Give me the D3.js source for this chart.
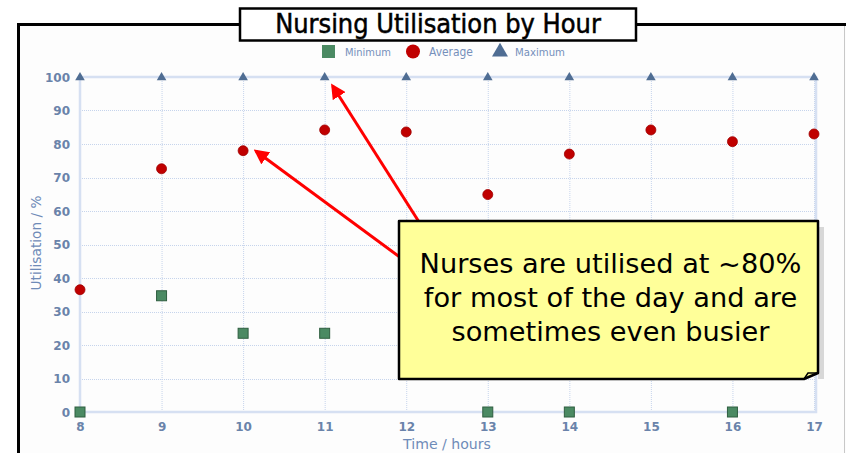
<!DOCTYPE html>
<html>
<head>
<meta charset="utf-8">
<script src="https://cdn.jsdelivr.net/npm/d3@7"></script>
<style>
  body { margin: 0; background: #fff; }
  svg { display: block; }
</style>
</head>
<body>
<div id="chart-area"></div>
<script>
let hours = [8, 9, 10, 11, 12, 13, 14, 15, 16, 17];
let minimum = [0, 34.7, 23.5, 23.5, 23.5, 0, 0, 11.8, 0, 23.5];
let average = [36.5, 72.6, 78.0, 84.2, 83.6, 64.9, 77.0, 84.2, 80.7, 83.0];
let maximum = [100, 100, 100, 100, 100, 100, 100, 100, 100, 100];
let yTicks = [0, 10, 20, 30, 40, 50, 60, 70, 80, 90, 100];
let noteLines = ["Nurses are utilised at ~80%", "for most of the day and are", "sometimes even busier"];

let width = 846;
let height = 453;
let plot = { left: 80, right: 814, top: 77, bottom: 412 };

let svg = d3.select("#chart-area")
    .append("svg")
    .attr("width", width)
    .attr("height", height);

// shrink a text to a target width
function fitWidth(sel, target) {
    let w = sel.node().getComputedTextLength();
    let fs = parseFloat(sel.style("font-size"));
    sel.style("font-size", (fs * target / w) + "px");
}

// outer frame
svg.append("rect")
    .attr("x", 18.5).attr("y", 24.5)
    .attr("width", 900).attr("height", 500)
    .attr("fill", "#fdfdfd")
    .attr("stroke", "#000")
    .attr("stroke-width", 3);
svg.append("line")
    .attr("x1", 844.5).attr("x2", 844.5)
    .attr("y1", 26).attr("y2", height)
    .attr("stroke", "#c8c8c8");

let x = d3.scaleLinear()
    .domain([8, 17])
    .range([plot.left, plot.right]);

let y = d3.scaleLinear()
    .domain([0, 100])
    .range([plot.bottom, plot.top]);

let grid = svg.append("g").attr("class", "grid");

grid.selectAll(".vgrid").data(hours)
    .enter().append("line")
    .attr("x1", d => x(d) + 0.5).attr("x2", d => x(d) + 0.5)
    .attr("y1", plot.top).attr("y2", plot.bottom)
    .attr("stroke", "#c6d4ec")
    .attr("stroke-dasharray", "1,1");

grid.selectAll(".hgrid").data(yTicks)
    .enter().append("line")
    .attr("x1", plot.left).attr("x2", plot.right)
    .attr("y1", d => Math.round(y(d)) + 0.5).attr("y2", d => Math.round(y(d)) + 0.5)
    .attr("stroke", "#c6d4ec")
    .attr("stroke-dasharray", "1,1");

// plot border
svg.append("rect")
    .attr("x", plot.left).attr("y", Math.round(y(100)))
    .attr("width", x(17) - plot.left + 2)
    .attr("height", Math.round(y(0)) - Math.round(y(100)))
    .attr("fill", "none")
    .attr("stroke", "#d6e0f2")
    .attr("stroke-width", 2.5);

// Y axis
let yAxis = d3.axisLeft(y)
    .tickValues(yTicks)
    .tickSize(0)
    .tickPadding(10);

let yG = svg.append("g")
    .attr("transform", "translate(" + plot.left + ",0)")
    .call(yAxis);
yG.select(".domain").remove();
yG.selectAll("text")
    .attr("fill", "#6a83aa")
    .attr("dy", "0.36em")
    .style("font", "bold 12px Verdana, 'DejaVu Sans', sans-serif");

// X axis
let xAxis = d3.axisBottom(x)
    .tickValues(hours)
    .tickSize(0)
    .tickPadding(10);

let xG = svg.append("g")
    .attr("transform", "translate(0," + plot.bottom + ")")
    .call(xAxis);
xG.select(".domain").remove();
xG.selectAll("text")
    .attr("fill", "#6a83aa")
    .style("font", "bold 12px Verdana, 'DejaVu Sans', sans-serif");

// axis labels
let xLabel = svg.append("text")
    .attr("x", 447).attr("y", 449)
    .attr("text-anchor", "middle")
    .attr("fill", "#6f8bb8")
    .style("font", "14px 'DejaVu Sans', sans-serif")
    .text("Time / hours");
fitWidth(xLabel, 88);

let yLabel = svg.append("text")
    .attr("transform", "rotate(-90)")
    .attr("x", -243).attr("y", 41)
    .attr("text-anchor", "middle")
    .attr("fill", "#6f8bb8")
    .style("font", "14px 'DejaVu Sans', sans-serif")
    .text("Utilisation / %");
fitWidth(yLabel, 95);

// series
let marks = svg.append("g").attr("class", "marks");

marks.selectAll(".min").data(hours)
    .enter().append("rect")
    .attr("x", (d) => x(d) - 5)
    .attr("y", (d, i) => y(minimum[i]) - 5)
    .attr("width", 10).attr("height", 10)
    .attr("fill", "#4b8a63")
    .attr("stroke", "#2f5e40")
    .attr("stroke-width", 1);

marks.selectAll(".avg").data(hours)
    .enter().append("circle")
    .attr("cx", (d) => x(d))
    .attr("cy", (d, i) => y(average[i]))
    .attr("r", 5)
    .attr("fill", "#c00000")
    .attr("stroke", "#a00000")
    .attr("stroke-width", 0.8);

let tri = d3.symbol().type(d3.symbolTriangle).size(40);
marks.selectAll(".max").data(hours)
    .enter().append("path")
    .attr("d", tri)
    .attr("transform", (d, i) => "translate(" + x(d) + "," + (y(maximum[i]) + 0.5) + ")")
    .attr("fill", "#4f6d93");

// legend
let legend = svg.append("g").style("font", "12px 'DejaVu Sans Condensed', sans-serif");
legend.append("rect")
    .attr("x", 322).attr("y", 45).attr("width", 13).attr("height", 13)
    .attr("fill", "#4b8a63");
let l1 = legend.append("text").attr("x", 345).attr("y", 55.5).attr("fill", "#7590bb").text("Minimum");
legend.append("circle")
    .attr("cx", 413).attr("cy", 51.5).attr("r", 7)
    .attr("fill", "#c00000");
let l2 = legend.append("text").attr("x", 429).attr("y", 55.5).attr("fill", "#7590bb").text("Average");
legend.append("path")
    .attr("d", d3.symbol().type(d3.symbolTriangle).size(110))
    .attr("transform", "translate(500,52)")
    .attr("fill", "#4f6d93");
let l3 = legend.append("text").attr("x", 515).attr("y", 55.5).attr("fill", "#7590bb").text("Maximum");
fitWidth(l1, 46);
fitWidth(l2, 44);
fitWidth(l3, 50);

// title
svg.append("rect")
    .attr("x", 240).attr("y", 8.5)
    .attr("width", 396).attr("height", 32)
    .attr("fill", "#fff")
    .attr("stroke", "#000")
    .attr("stroke-width", 2.5);
let title = svg.append("text")
    .attr("x", 438).attr("y", 33)
    .attr("text-anchor", "middle")
    .attr("fill", "#000")
    .attr("stroke", "#000")
    .attr("stroke-width", 0.5)
    .style("font", "24px 'DejaVu Sans Condensed', sans-serif")
    .text("Nursing Utilisation by Hour");
fitWidth(title, 326);

// arrows
let defs = svg.append("defs");
defs.append("marker")
    .attr("id", "arrow")
    .attr("viewBox", "0 0 10 10")
    .attr("refX", 8).attr("refY", 5)
    .attr("markerWidth", 5).attr("markerHeight", 5)
    .attr("orient", "auto")
    .append("path")
    .attr("d", "M0,0L10,5L0,10z")
    .attr("fill", "#ff0000");

svg.append("line")
    .attr("x1", 420).attr("y1", 272)
    .attr("x2", x(10) + 13).attr("y2", y(78) + 0.5)
    .attr("stroke", "#ff0000").attr("stroke-width", 3)
    .attr("marker-end", "url(#arrow)");
svg.append("line")
    .attr("x1", 440).attr("y1", 255)
    .attr("x2", x(11) + 8).attr("y2", y(100) + 9)
    .attr("stroke", "#ff0000").attr("stroke-width", 3)
    .attr("marker-end", "url(#arrow)");

// note box
let box = { x: 399, y: 221, w: 419, h: 158 };
let note = svg.append("g");
note.append("path")
    .attr("d", "M" + (box.x + 6) + "," + (box.y + box.h) + "h" + box.w + "v" + (-box.h + 6) + "h-6v" + (box.h - 6) + "z")
    .attr("fill", "#d8d8d8");
note.append("path")
    .attr("d", "M" + box.x + "," + box.y + "h" + box.w + "v" + (box.h - 6) + "l-14,6h" + (-(box.w - 14)) + "z")
    .attr("fill", "#ffff99")
    .attr("stroke", "#000")
    .attr("stroke-width", 2.5)
    .attr("stroke-linejoin", "round");
note.append("path")
    .attr("d", "M" + (box.x + box.w - 14) + "," + (box.y + box.h) + "l4,-6h10")
    .attr("fill", "none")
    .attr("stroke", "#000")
    .attr("stroke-width", 1.5);

let noteText = note.append("text")
    .attr("text-anchor", "middle")
    .attr("fill", "#000")
    .style("font", "28px 'DejaVu Sans', sans-serif");
noteText.selectAll("tspan").data(noteLines)
    .enter().append("tspan")
    .attr("x", box.x + box.w / 2 + 2)
    .attr("y", (d, i) => 273 + i * 34)
    .text(d => d);

// fit first line to ~380px
let w0 = noteText.select("tspan").node().getComputedTextLength();
noteText.style("font-size", (28 * 382 / w0) + "px");
</script>
</body>
</html>
